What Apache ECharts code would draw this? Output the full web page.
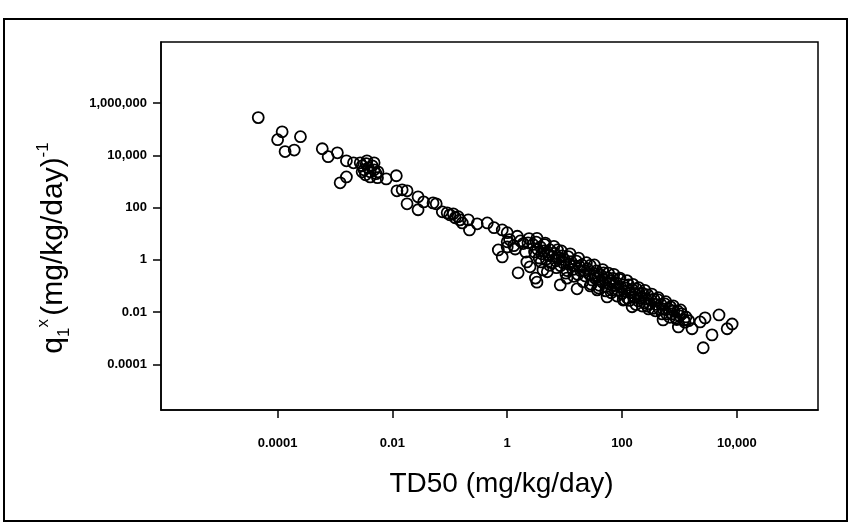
<!DOCTYPE html>
<html>
<head>
<meta charset="utf-8">
<script src="https://cdn.jsdelivr.net/npm/echarts@6/dist/echarts.min.js"></script>
<style>
html,body{margin:0;padding:0;background:#fff;}
#chart{width:851px;height:526px;}
</style>
</head>
<body>
<div id="chart"></div>
<script>
// Tick values and labels
const xTicks = [0.0001, 0.01, 1, 100, 10000];
const xTickLabels = ['0.0001', '0.01', '1', '100', '10,000'];
const yTicks = [0.0001, 0.01, 1, 100, 10000, 1000000];
const yTickLabels = ['0.0001', '0.01', '1', '100', '10,000', '1,000,000'];

// TD50 (mg/kg/day) values
const td50 = [
  4.6e-5, 1.2e-4, 1.0e-4, 2.5e-4, 1.35e-4, 1.95e-4, 6.0e-4, 7.6e-4, 1.1e-3, 1.58e-3, 2.1e-3,
  2.75e-3, 2.97e-3, 3.2e-3, 3.5e-3, 3.8e-3, 4.1e-3, 4.45e-3, 4.8e-3, 5.2e-3, 3.4e-3, 4.1e-3, 5.6e-3, 2.97e-3, 3.6e-3, 4.8e-3,
  1.23e-3, 1.58e-3, 5.5e-3, 7.8e-3, 0.0117, 0.012, 0.0148, 0.018, 0.018, 0.028, 0.028,
  0.035, 0.051, 0.058, 0.074, 0.09, 0.10, 0.115, 0.124, 0.14, 0.15, 0.165, 0.21, 0.22, 0.30, 0.45, 0.59, 0.82, 1.0,
  1.0, 0.70, 0.82, 1.0, 1.38, 1.7, 1.55, 2.3, 2.2, 2.5, 3.1, 3.3, 4.2, 5.0, 8.4, 11, 16.5, 28, 37,
  55, 105, 150, 275, 520, 960, 1660, 2300, 2800, 4900, 3700, 2600, 6800, 8300,
  1.1, 1.3, 1.5, 1.9, 2.1, 2.4,
  2.8, 3.0, 3.2, 3.4, 3.6, 3.8, 4.0, 4.3, 4.5, 4.8, 5.0, 5.3, 5.6, 6.0, 6.3, 6.7, 7.0, 7.5, 8.0, 8.5,
  9.0, 9.5, 10, 11, 11.5, 12, 13, 14, 15, 16, 17, 18, 19, 20, 22, 23, 25, 27, 28, 30,
  32, 34, 36, 38, 40, 43, 45, 48, 50, 53, 56, 60, 63, 67, 70, 75, 80, 85, 90, 95,
  100, 105, 110, 118, 125, 130, 140, 150, 160, 170, 180, 190, 200, 215, 230, 245, 260, 280, 300, 320,
  340, 360, 390, 420, 450, 480, 520, 560, 600, 650, 700, 750, 800, 870, 930, 1000, 1100, 1200, 1300, 1450,
  3.3, 3.9, 4.6, 5.5, 6.5, 7.2, 8.8, 10.5, 12.5, 14.5, 17.5, 21, 24, 29, 33, 39, 46, 52, 58, 65, 72,
  82, 92, 112, 122, 135, 155, 175, 195, 225, 250, 290, 330, 380, 430, 500, 580, 680, 780, 900, 1050, 1250
];

// q1* (mg/kg/day)^-1 values
const q1 = [
  2.8e5, 8.0e4, 4.0e4, 5.2e4, 1.4e4, 1.6e4, 1.8e4, 8.9e3, 1.26e4, 6.2e3, 5.2e3,
  5.2e3, 4.0e3, 2.8e3, 4.8e3, 3.3e3, 2.35e3, 4.0e3, 2.8e3, 2.0e3, 1.8e3, 1.5e3, 2.35e3, 2.35e3, 6.2e3, 5.2e3,
  890, 1.5e3, 1.4e3, 1.26e3, 1.66e3, 440, 480, 440, 140, 260, 83,
  166, 152, 140, 69, 63, 53, 58, 41, 45, 34, 26, 34, 14, 24, 26, 17, 14, 11,
  4.9, 2.4, 1.3, 3.1, 2.6, 5.3, 0.32, 4.5, 0.83, 0.54, 0.20, 0.14, 0.41, 0.35, 0.11, 0.20, 0.078, 0.10, 0.071,
  0.038, 0.029, 0.016, 0.017, 0.005, 0.0027, 0.0023, 0.0042, 0.006, 0.0078, 0.00134, 0.00043, 0.0023, 0.0035,
  6.0, 3.5, 8.0, 4.2, 2.0, 6.5,
  3.9, 2.0, 4.8, 2.5, 1.18, 3.1, 1.7, 2.2, 3.8, 1.06, 2.0, 1.44, 2.4, 0.78, 1.35, 1.78, 0.91, 2.4, 1.17, 0.60,
  1.42, 0.76, 1.02, 0.39, 1.33, 0.67, 0.85, 0.43, 0.60, 0.90, 0.275, 0.57, 0.38, 0.64, 0.39, 0.24, 0.46, 0.28, 0.61, 0.17,
  0.305, 0.20, 0.38, 0.224, 0.106, 0.257, 0.142, 0.32, 0.17, 0.096, 0.21, 0.12, 0.155, 0.07, 0.194, 0.108, 0.133, 0.07, 0.18, 0.089,
  0.051, 0.113, 0.062, 0.083, 0.034, 0.111, 0.055, 0.074, 0.037, 0.052, 0.076, 0.027, 0.051, 0.034, 0.052, 0.0225, 0.033, 0.046, 0.021, 0.029,
  0.0138, 0.031, 0.0196, 0.030, 0.0132, 0.0195, 0.0131, 0.0205, 0.0085, 0.0131, 0.0158, 0.0085, 0.0112, 0.0059, 0.011, 0.0072, 0.0085, 0.005, 0.0065, 0.0047,
  6.7, 0.83, 4.4, 0.62, 3.3, 0.5, 2.2, 0.31, 1.7, 0.235, 1.17, 0.146, 0.78, 0.117, 0.64, 0.083, 0.425, 0.065, 0.31, 0.055, 0.28,
  0.041, 0.20, 0.030, 0.16, 0.028, 0.115, 0.0194, 0.087, 0.017, 0.068, 0.0132, 0.049, 0.0112, 0.0356, 0.0085, 0.025, 0.0063, 0.0174, 0.0052, 0.0121, 0.0041
];

const points = td50.map((x, i) => [x, q1[i]]);

function labelFor(ticks, labels) {
  return function (v) {
    for (let i = 0; i < ticks.length; i++) {
      if (Math.abs(Math.log10(v) - Math.log10(ticks[i])) < 1e-6) return labels[i];
    }
    return '';
  };
}

const sans = "'Liberation Sans', Arial, sans-serif";

const chart = echarts.init(document.getElementById('chart'), null, {renderer: 'canvas'});
chart.setOption({
  animation: false,
  backgroundColor: '#fff',
  grid: {
    left: 161, right: 33, top: 42, bottom: 116,
    show: true, borderColor: '#000', borderWidth: 1.5, backgroundColor: 'transparent'
  },
  graphic: [{
    type: 'rect', silent: true,
    shape: {x: 4, y: 19, width: 843, height: 502},
    style: {fill: 'none', stroke: '#000', lineWidth: 2}
  }],
  xAxis: {
    type: 'log', logBase: 10, min: 9.3e-7, max: 2.6e5,
    name: 'TD50 (mg/kg/day)', nameLocation: 'middle', nameGap: 60,
    nameTextStyle: {fontFamily: sans, fontSize: 28, color: '#000', padding: [0, 0, 0, 24]},
    axisLine: {show: true, lineStyle: {color: '#000', width: 1.5}},
    axisTick: {show: true, inside: false, length: 8, customValues: xTicks, lineStyle: {color: '#000', width: 1.5}},
    axisLabel: {customValues: xTicks, formatter: labelFor(xTicks, xTickLabels), margin: 27,
      fontFamily: sans, fontSize: 13, fontWeight: 'bold', color: '#000'},
    splitLine: {show: false}, minorTick: {show: false}
  },
  yAxis: {
    type: 'log', logBase: 10, min: 1.78e-6, max: 2.2e8,
    name: '{q|q}{sub|1}{sup|x} {t|(mg/kg/day)}{sup|-1}', nameLocation: 'middle', nameGap: 92,
    nameTextStyle: {
      color: '#000', padding: [0, 44, 0, 0],
      rich: {
        q: {fontFamily: sans, fontSize: 30, color: '#000'},
        t: {fontFamily: sans, fontSize: 30, color: '#000'},
        sub: {fontFamily: sans, fontSize: 17, color: '#000', verticalAlign: 'bottom', padding: [0, 0, -4, 0]},
        sup: {fontFamily: sans, fontSize: 17, color: '#000', verticalAlign: 'top', padding: [-4, 0, 0, 0]}
      }
    },
    axisLine: {show: true, lineStyle: {color: '#000', width: 1.5}},
    axisTick: {show: true, inside: false, length: 8, customValues: yTicks, lineStyle: {color: '#000', width: 1.5}},
    axisLabel: {customValues: yTicks, formatter: labelFor(yTicks, yTickLabels), margin: 14,
      fontFamily: sans, fontSize: 13, fontWeight: 'bold', color: '#000'},
    splitLine: {show: false}, minorTick: {show: false}
  },
  series: [{
    type: 'scatter',
    data: points,
    symbol: 'circle',
    symbolSize: 11,
    itemStyle: {color: 'rgba(255,255,255,0)', borderColor: '#000', borderWidth: 1.8, opacity: 1}
  }]
});
</script>
</body>
</html>
